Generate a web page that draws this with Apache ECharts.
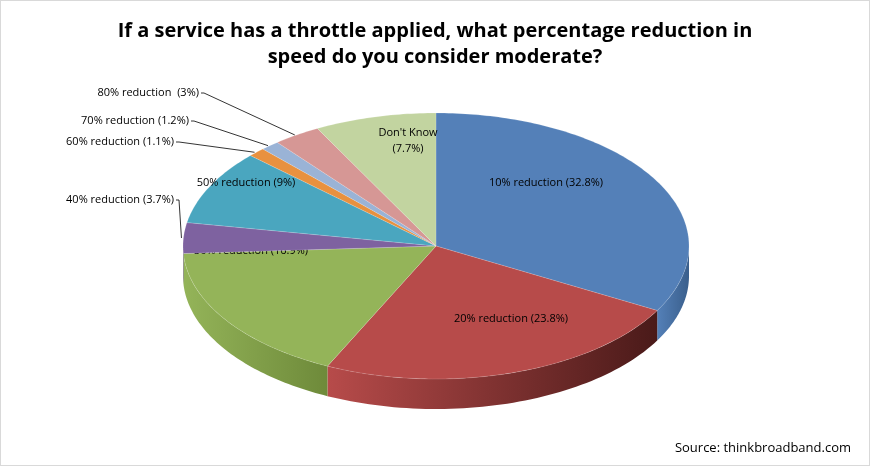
<!DOCTYPE html>
<html><head><meta charset="utf-8">
<script src="https://cdn.jsdelivr.net/npm/echarts@6/dist/echarts.min.js"></script>
<style>html,body{margin:0;padding:0;background:#fff}#c{width:870px;height:466px;box-sizing:border-box;border:1px solid #d9d9d9}</style>
</head><body><div id="c"></div>
<script>
const categories = ["10% reduction","20% reduction","30% reduction","40% reduction","50% reduction","60% reduction","70% reduction","80% reduction","Don't Know"];
const values = [32.8,23.8,16.9,3.7,9,1.1,1.2,3,7.7];
const labelTexts = ["10% reduction (32.8%)","20% reduction (23.8%)","30% reduction (16.9%)","40% reduction (3.7%)","50% reduction (9%)","60% reduction (1.1%)","70% reduction (1.2%)","80% reduction  (3%)","Don't Know\n(7.7%)"];
const colors = ["#5480B8","#B74B4A","#94B459","#7E62A0","#4AA6BF","#E8913F","#9AB3D6","#D69795","#C2D4A0"];
const sideColors = ["#3A5F8C","#4A1A19","#6E8A3A","#5A4578","#337F93","#B86D2E","#6A86AE","#A86B69","#94A874"];
// layout styles
const geo = {cx:435, cy:245, rx:253, ry:133, depth:30};
const outsideLabels = {3:[175,199], 5:[175,141], 6:[190,120], 7:[200,92]};
const insideLabelPos = {0:[545,182],1:[510,318],2:[250,250],4:[245,182],8:[407,140]};

const total = values.reduce((a,b)=>a+b,0);
let acc = 0;
const data = values.map((v,i)=>{const s=acc; acc+=v; return [i, s/total*2*Math.PI - Math.PI/2, acc/total*2*Math.PI - Math.PI/2];});
function pt(t,dy){return [geo.cx+geo.rx*Math.cos(t), geo.cy+geo.ry*Math.sin(t)+(dy||0)];}

const chart = echarts.init(document.getElementById('c'));
chart.setOption({
  animation:false,
  title:{text:'If a service has a throttle applied, what percentage reduction in\nspeed do you consider moderate?', left:'center', top:12,
    textStyle:{fontFamily:'Open Sans', fontWeight:'bold', fontSize:20, lineHeight:26, color:'#000'}},
  graphic:[{type:'text', right:18, bottom:10, style:{text:'Source: thinkbroadband.com', font:'13px "Open Sans"', fill:'#000'}}],
  series:[{
    type:'custom', coordinateSystem:'none', data:data,
    renderItem:function(params, api){
      const i = api.value(0), a0 = api.value(1), a1 = api.value(2);
      const children = [];
      const s0 = Math.max(a0, 0), s1 = Math.min(a1, Math.PI);
      if (s1 > s0) {
        const up=[], dn=[]; const n=60;
        for(let k=0;k<=n;k++){const t=s0+(s1-s0)*k/n; up.push(pt(t,0)); dn.push(pt(t,geo.depth));}
        const x0 = up[0][0], x1 = up[up.length-1][0];
        children.push({type:'polygon', shape:{points:up.concat(dn.reverse())},
          style:{fill:new echarts.graphic.LinearGradient(x1,0,x0,0,[{offset:0,color:colors[i]},{offset:1,color:sideColors[i]}], true)}});
      }
      const pts=[[geo.cx,geo.cy]]; const n=Math.max(4,Math.ceil((a1-a0)*60));
      for(let k=0;k<=n;k++){pts.push(pt(a0+(a1-a0)*k/n,0));}
      children.push({type:'polygon', shape:{points:pts},
        style:{fill:colors[i], stroke:'rgba(255,255,255,0.3)', lineWidth:0.5}});
      if (outsideLabels[i]) {
        const m = pt((a0+a1)/2,0); const L = outsideLabels[i];
        children.push({type:'polyline', shape:{points:[[m[0]-2,m[1]],[L[0]+3,L[1]],[L[0],L[1]]]}, style:{stroke:'#000',lineWidth:0.8,fill:null}});
        children.push({type:'text', style:{text:labelTexts[i], x:L[0]-2, y:L[1], align:'right', verticalAlign:'middle', font:'11px "Open Sans"', fill:'#000'}});
      } else {
        const L = insideLabelPos[i];
        children.push({type:'text', style:{text:labelTexts[i], x:L[0], y:L[1], align:'center', verticalAlign:'middle', font:'11px "Open Sans"', fill:'#000', lineHeight:16}});
      }
      return {type:'group', children:children};
    }
  }]
});
</script></body></html>
